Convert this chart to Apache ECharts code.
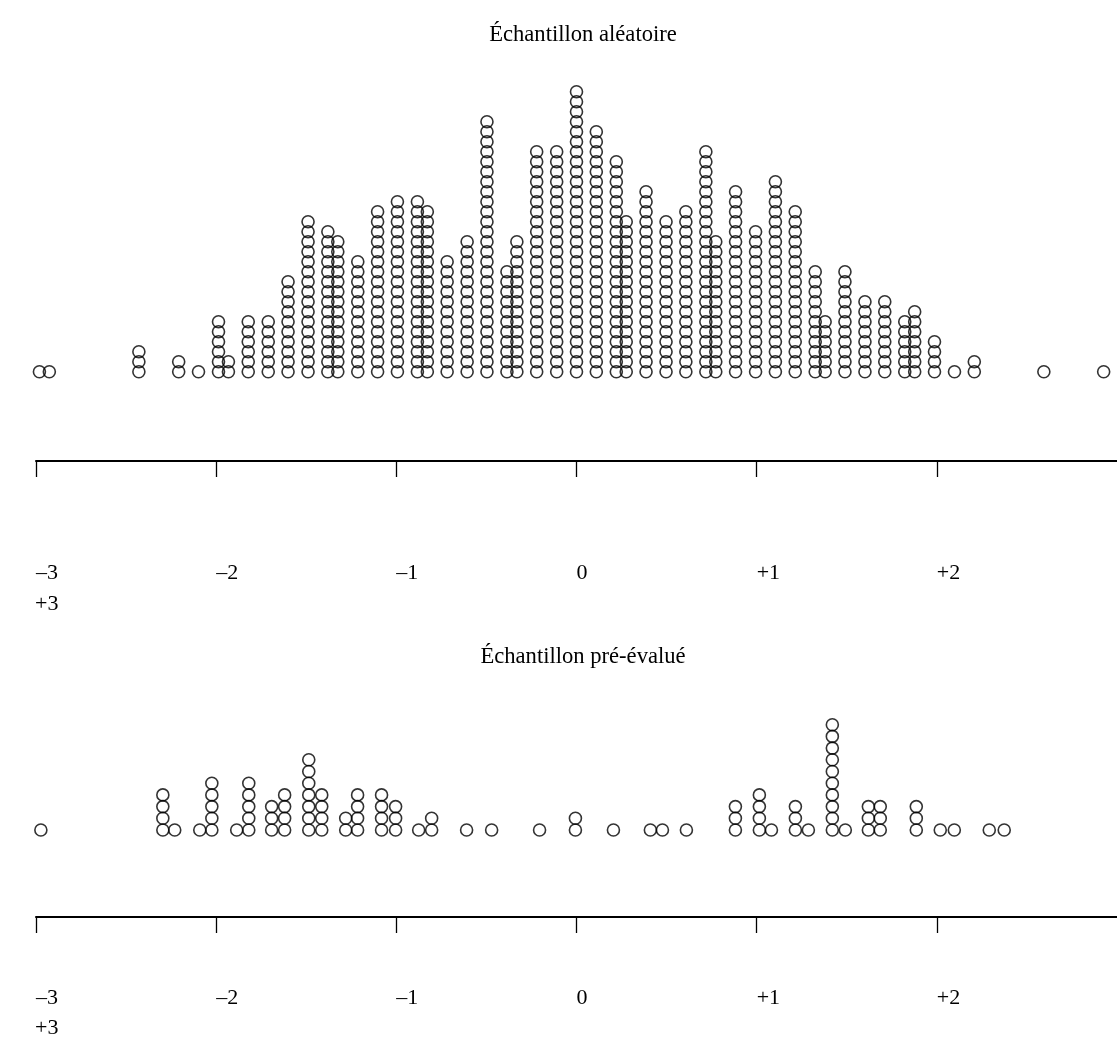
<!DOCTYPE html>
<html>
<head>
<meta charset="utf-8">
<script src="https://cdn.jsdelivr.net/npm/echarts@6/dist/echarts.min.js"></script>
<style>
html,body{margin:0;padding:0;background:#fff;}
#chart{width:1117px;height:1039px;}
</style>
</head>
<body>
<div id="chart"></div>
<script>
// Titles
const titleTop = 'Échantillon aléatoire';
const titleBottom = 'Échantillon pré-évalué';

// Axis ticks
const tickValues = [-3, -2, -1, 0, 1, 2, 3];
const tickLabels = ['–3', '–2', '–1', '0', '+1', '+2', '+3'];

// Top sample: value position and number of stacked dots
const topValues = [-2.981, -2.926, -2.429, -2.208, -2.098, -1.987, -1.932, -1.822, -1.711, -1.601,
  -1.490, -1.380, -1.325, -1.214, -1.104, -0.994, -0.883, -0.828, -0.718, -0.607,
  -0.497, -0.386, -0.331, -0.221, -0.110, 0.000, 0.110, 0.221, 0.276, 0.386,
  0.497, 0.607, 0.718, 0.773, 0.883, 0.994, 1.104, 1.214, 1.325, 1.380,
  1.490, 1.601, 1.711, 1.822, 1.877, 1.987, 2.098, 2.208, 2.594, 2.926];
const topCounts = [1, 1, 3, 2, 1, 6, 2, 6, 6, 10,
  16, 15, 14, 12, 17, 18, 18, 17, 12, 14,
  26, 11, 14, 23, 23, 29, 25, 22, 16, 19,
  16, 17, 23, 14, 19, 15, 20, 17, 11, 6,
  11, 8, 8, 6, 7, 4, 1, 2, 1, 1];

// Bottom sample
const bottomValues = [-2.973, -2.296, -2.230, -2.091, -2.024, -1.886, -1.819, -1.692, -1.620, -1.486,
  -1.414, -1.281, -1.215, -1.082, -1.004, -0.876, -0.804, -0.610, -0.471, -0.205,
  -0.006, 0.205, 0.410, 0.477, 0.610, 0.882, 1.015, 1.082, 1.215, 1.287,
  1.420, 1.492, 1.620, 1.686, 1.886, 2.019, 2.097, 2.291, 2.374];
const bottomCounts = [1, 4, 1, 1, 5, 1, 5, 3, 4, 7,
  4, 2, 4, 4, 3, 1, 2, 1, 1, 1,
  2, 1, 1, 1, 1, 3, 4, 1, 3, 1,
  10, 1, 3, 3, 3, 1, 1, 1, 1];

function stack(values, counts) {
  const out = [];
  values.forEach((v, i) => {
    for (let k = 1; k <= counts[i]; k++) out.push([v, k]);
  });
  return out;
}

const FONT = '"Liberation Serif", "DejaVu Serif", serif';

function xAxisCfg(gridIndex, margin) {
  return {
    type: 'value', gridIndex: gridIndex, min: -3, max: 3, interval: 1,
    position: 'bottom',
    axisLine: { show: true, onZero: false, lineStyle: { color: '#000', width: 2 } },
    axisTick: { show: true, length: 16, inside: false, lineStyle: { color: '#000', width: 1.3 } },
    splitLine: { show: false },
    axisLabel: {
      show: true, margin: margin, color: '#000', fontFamily: FONT, fontSize: 22, align: 'left',
      showMaxLabel: false,
      formatter: function (v) {
        if (v === 3) return '';
        const i = tickValues.indexOf(Math.round(v));
        return i >= 0 ? tickLabels[i] : '';
      }
    }
  };
}

const chart = echarts.init(document.getElementById('chart'), null, { renderer: 'canvas' });
const dotStyle = { color: 'rgba(0,0,0,0)', borderColor: '#000', borderWidth: 1.6 };

chart.setOption({
  animation: false,
  backgroundColor: '#fff',
  title: [
    { text: titleTop, left: 578, top: 19, textAlign: 'center',
      textStyle: { fontFamily: FONT, fontSize: 22.6, fontWeight: 'normal', color: '#000' } },
    { text: titleBottom, left: 578, top: 641, textAlign: 'center',
      textStyle: { fontFamily: FONT, fontSize: 22.6, fontWeight: 'normal', color: '#000' } }
  ],
  grid: [
    { left: 36, width: 1082, top: 81.7, height: 379.3 },
    { left: 36, width: 1082, top: 713, height: 204 }
  ],
  xAxis: [xAxisCfg(0, 101), xAxisCfg(1, 70)],
  yAxis: [
    { type: 'value', gridIndex: 0, min: -7.93, max: 30, show: false },
    { type: 'value', gridIndex: 1, min: -6.436, max: 11, show: false }
  ],
  graphic: [
    { type: 'text', left: 35, top: 593, style: { text: tickLabels[6], font: '22px ' + FONT, fill: '#000' } },
    { type: 'text', left: 35, top: 1017, style: { text: tickLabels[6], font: '22px ' + FONT, fill: '#000' } }
  ],
  series: [
    { type: 'scatter', xAxisIndex: 0, yAxisIndex: 0, symbol: 'circle', symbolSize: 12,
      itemStyle: dotStyle, data: stack(topValues, topCounts), silent: true },
    { type: 'scatter', xAxisIndex: 1, yAxisIndex: 1, symbol: 'circle', symbolSize: 12,
      itemStyle: dotStyle, data: stack(bottomValues, bottomCounts), silent: true }
  ]
});
</script>
</body>
</html>
